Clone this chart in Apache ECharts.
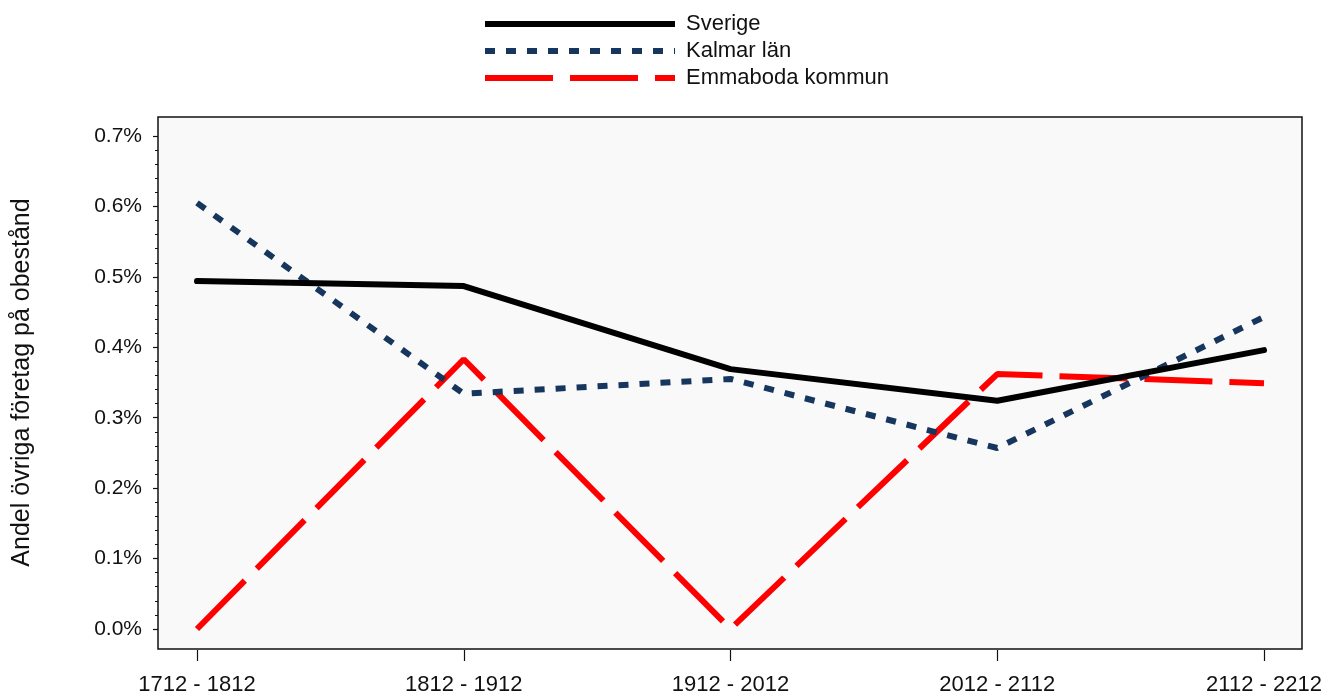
<!DOCTYPE html>
<html>
<head>
<meta charset="utf-8">
<script src="https://cdn.jsdelivr.net/npm/echarts@6/dist/echarts.min.js"></script>
<style>
  html, body { margin: 0; padding: 0; background: #fff; }
  #chart { width: 1332px; height: 698px; }
</style>
</head>
<body>
<div id="chart"></div>
<script>
// perioder (x-axel)
var periods = ['1712 - 1812', '1812 - 1912', '1912 - 2012', '2012 - 2112', '2112 - 2212'];
// andel i procent
var sverige = [0.494, 0.487, 0.369, 0.324, 0.396];
var kalmar = [0.605, 0.334, 0.355, 0.257, 0.443];
var emmaboda = [0.0, 0.383, 0.0, 0.362, 0.349];
var yTicks = [0, 0.7, 0.1]; // min, max, steg

var chart = echarts.init(document.getElementById('chart'), null, { renderer: 'canvas' });
var font = '"Liberation Sans", Arial, sans-serif';

var option = {
  animation: false,
  backgroundColor: '#ffffff',
  textStyle: { fontFamily: font, color: '#111' },
  legend: {
    orient: 'vertical',
    left: 482,
    top: 13,
    padding: 0,
    itemWidth: 190,
    itemHeight: 21,
    itemGap: 5,
    icon: 'inherit',
    itemStyle: { opacity: 0 },
    lineStyle: { width: 6, cap: 'butt' },
    textStyle: { fontSize: 22, color: '#111', fontFamily: font, lineHeight: 21, padding: [0, 0, 0, 6] },
    data: ['Sverige', 'Kalmar län', 'Emmaboda kommun']
  },
  grid: [
    // ram runt diagrammet
    { left: 158, right: 30, top: 117, bottom: 49, show: true, backgroundColor: '#f9f9f9', borderColor: '#111', borderWidth: 1.5 },
    // dataytan
    { left: 197, right: 68, top: 136, bottom: 69 }
  ],
  xAxis: [
    { gridIndex: 0, show: false, type: 'value', min: 0, max: 1 },
    {
      gridIndex: 1,
      type: 'category',
      data: periods,
      boundaryGap: false,
      offset: 21,
      axisLine: { show: false, onZero: false },
      axisTick: { show: true, length: 11, lineStyle: { color: '#111', width: 1.2 } },
      axisLabel: { fontSize: 22, color: '#111', margin: 24, fontFamily: font },
      splitLine: { show: false }
    }
  ],
  yAxis: [
    { gridIndex: 0, show: false, type: 'value', min: 0, max: 1 },
    {
      gridIndex: 1,
      type: 'value',
      min: yTicks[0],
      max: yTicks[1],
      interval: yTicks[2],
      offset: 39,
      name: 'Andel övriga företag på obestånd',
      nameLocation: 'middle',
      nameGap: 123,
      nameTextStyle: { fontSize: 25, color: '#111', fontFamily: font },
      axisLine: { show: false, onZero: false },
      axisTick: { show: true, length: 5, lineStyle: { color: '#111', width: 1.2 } },
      minorTick: { show: true, splitNumber: 5, length: 3, lineStyle: { color: '#111', width: 1 } },
      axisLabel: {
        fontSize: 21, color: '#111', margin: 16, fontFamily: font,
        formatter: function (v) { return v.toFixed(1) + '%'; }
      },
      splitLine: { show: false }
    }
  ],
  series: [
    {
      name: 'Sverige', type: 'line', xAxisIndex: 1, yAxisIndex: 1,
      data: sverige, symbol: 'none', z: 3,
      lineStyle: { color: '#000', width: 6, cap: 'round', join: 'round' },
      itemStyle: { color: '#000' }
    },
    {
      name: 'Kalmar län', type: 'line', xAxisIndex: 1, yAxisIndex: 1,
      data: kalmar, symbol: 'none', z: 2,
      lineStyle: { color: '#17365d', width: 6, type: [10, 11], cap: 'butt' },
      itemStyle: { color: '#17365d' }
    },
    {
      name: 'Emmaboda kommun', type: 'line', xAxisIndex: 1, yAxisIndex: 1,
      data: emmaboda, symbol: 'none', z: 1,
      lineStyle: { color: '#ff0000', width: 6, type: [68, 17], cap: 'butt' },
      itemStyle: { color: '#ff0000' }
    }
  ]
};

chart.setOption(option);
</script>
</body>
</html>
